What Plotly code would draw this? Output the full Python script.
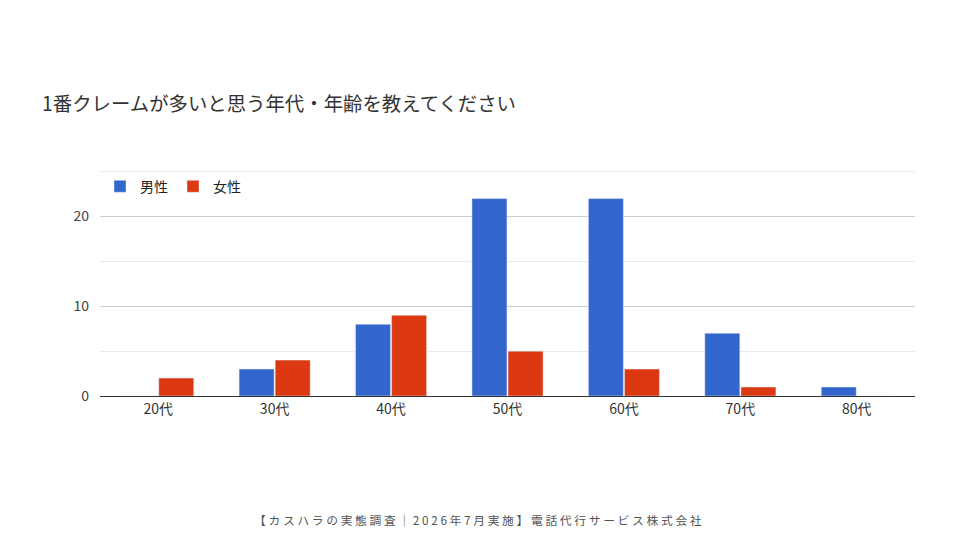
import plotly.graph_objects as go

# data
categories = ['20代', '30代', '40代', '50代', '60代', '70代', '80代']
male = [0, 3, 8, 22, 22, 7, 1]
female = [2, 4, 9, 5, 3, 1, 0]
y_ticks = [0, 10, 20]

title = '1番クレームが多いと思う年代・年齢を教えてください'
footer = '【カスハラの実態調査｜2026年7月実施】電話代行サービス株式会社'

font = 'Noto Sans CJK JP'

fig = go.Figure()
fig.add_trace(go.Bar(x=categories, y=male, name='男性', marker_color='#3366cc'))
fig.add_trace(go.Bar(x=categories, y=female, name='女性', marker_color='#dc3912'))

# page body adds an 8px offset, margins compensate for it
fig.update_layout(
    width=960,
    height=540,
    paper_bgcolor='white',
    plot_bgcolor='white',
    font=dict(family=font, size=14, color='#444'),
    margin=dict(l=92, r=53, t=161, b=152),
    barmode='group',
    bargap=0.38,
    bargroupgap=0.03,
    showlegend=True,
    legend=dict(orientation='h', x=0, y=0.922, xanchor='left', yanchor='middle',
                font=dict(size=14, color='#222'), bgcolor='rgba(0,0,0,0)'),
    annotations=[
        dict(text=title, xref='paper', yref='paper', x=-0.0736, y=1.292,
             xanchor='left', yanchor='middle', showarrow=False,
             font=dict(size=19.4, color='#333')),
        dict(text=' '.join(footer), xref='paper', yref='paper', x=0.464, y=-0.543,
             xanchor='center', yanchor='middle', showarrow=False,
             font=dict(size=11.8, color='#555')),
    ],
)

fig.update_xaxes(showgrid=False, showline=True, linecolor='#333', linewidth=1,
                 ticks='', tickfont=dict(size=14, color='#333'))
fig.update_yaxes(range=[0, 25.3], tickvals=y_ticks, showgrid=True, gridcolor='#ccc',
                 zeroline=False, tickfont=dict(size=14, color='#444'),
                 ticklabelstandoff=10,
                 minor=dict(dtick=5, showgrid=True, gridcolor='#ebebeb'))

fig.write_html('out.html')
